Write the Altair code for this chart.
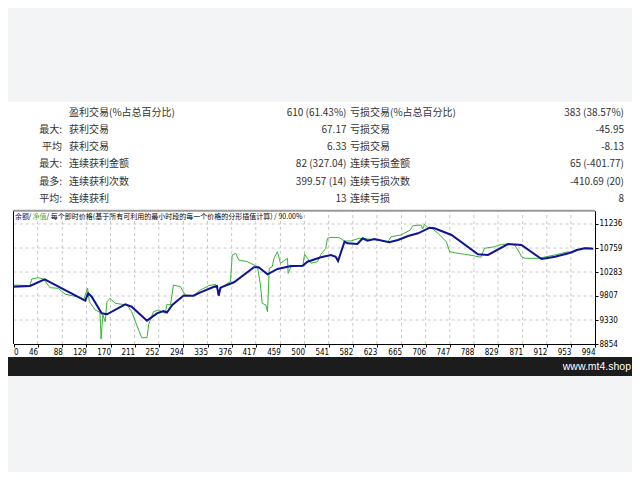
import altair as alt
import pandas as pd

# ---------------- table texts ----------------
ROW_PREFIX = ["", "最大:", "平均", "最大:", "最多:", "平均:"]
WIN_LABELS = ["盈利交易(%占总百分比)", "获利交易", "获利交易", "连续获利金额", "连续获利次数", "连续获利"]
WIN_VALUES = ["610 (61.43%)", "67.17", "6.33", "82 (327.04)", "399.57 (14)", "13"]
LOSS_LABELS = ["亏损交易(%占总百分比)", "亏损交易", "亏损交易", "连续亏损金额", "连续亏损次数", "连续亏损"]
LOSS_VALUES = ["383 (38.57%)", "-45.95", "-8.13", "65 (-401.77)", "-410.69 (20)", "8"]

# ---------------- chart texts ----------------
TITLE_BAL = "余额"
TITLE_SEP = "/"
TITLE_EQ = "净值"
TITLE_REST = "/ 每个即时价格(基于所有可利用的最小时段的每一个价格的分形插值计算) / 90.00%"
FOOTER = "www.mt4.shop"

# ---------------- series ----------------
BAL_X = [5, 33, 58, 127, 132, 138, 155, 164, 195, 206, 232, 249, 260, 266, 275, 294, 311, 323, 346, 351,
         354, 357, 380, 414, 422, 437, 454, 477, 497, 505, 528, 545, 553, 557, 568, 573, 590, 599, 607, 619,
         644, 659, 676, 693, 713, 721, 750, 795, 812, 846, 869, 903, 926, 949, 963, 977, 991]
BAL_Y = [9991, 10005, 10138, 9714, 9860, 9793, 9463, 9444, 9642, 9594, 9317, 9463, 9509, 9479, 9628, 9813, 9813, 9880, 9991, 10005,
         9813, 9972, 10079, 10377, 10377, 10238, 10343, 10402, 10408, 10488, 10575, 10621, 10587, 10502, 10885, 10853, 10839, 10952, 10905, 10938,
         10873, 10918, 10998, 11051, 11163, 11151, 11018, 10635, 10621, 10839, 10819, 10541, 10587, 10654, 10720, 10754, 10746]

EQ_X = [5, 33, 36, 47, 56, 67, 81, 93, 113, 124, 131, 134, 144, 152, 154, 157, 161, 164, 169, 178,
        198, 206, 215, 223, 232, 235, 243, 252, 263, 266, 272, 277, 289, 297, 311, 323, 337, 349, 354, 360,
        374, 377, 383, 388, 403, 420, 425, 428, 434, 437, 440, 445, 448, 454, 459, 471, 472, 477, 497, 500,
        505, 511, 522, 528, 536, 539, 545, 559, 568, 579, 593, 613, 642, 647, 664, 680, 684, 698, 701, 704,
        710, 718, 727, 741, 747, 755, 772, 787, 800, 806, 823, 835, 849, 857, 863, 869, 875, 898, 906, 926,
        937, 949, 954, 963, 971, 983, 991]
EQ_Y = [10025, 10011, 10144, 10170, 10144, 9972, 9960, 9841, 9793, 9727, 9960, 9694, 9529, 9483, 8953, 9430, 9297, 9694, 9761, 9662,
        9628, 9495, 9217, 8979, 8979, 9245, 9495, 9529, 9463, 9642, 9628, 10025, 9991, 9827, 9813, 9926, 10011, 10039, 9880, 9991,
        10091, 10621, 10654, 10521, 10488, 10388, 10025, 9662, 9628, 9495, 10357, 10388, 10555, 10686, 10456, 10555, 10257, 10388, 10402, 10635,
        10555, 10456, 10488, 10635, 10754, 10952, 10972, 10964, 10899, 10899, 10952, 10932, 10885, 10984, 11018, 11117, 11202, 11216, 11137, 11230,
        11163, 11137, 11051, 10885, 10686, 10666, 10635, 10607, 10575, 10754, 10785, 10833, 10833, 10819, 10720, 10587, 10555, 10555, 10575, 10621,
        10654, 10686, 10654, 10706, 10754, 10766, 10746]

X_TICKS = [0, 46, 88, 129, 170, 211, 252, 294, 335, 376, 417, 459, 500, 541, 582, 623, 665, 706, 747, 788, 829, 871, 912, 953, 994]
Y_TICKS = [8854, 9330, 9807, 10283, 10759, 11236]
X_DOMAIN = [5, 994]
Y_DOMAIN = [8854, 11500]

# ---------------- layout/style ----------------
W, H = 624, 464
BG = "#f2f4f5"
TXT = "#333333"
CJK = "Noto Sans CJK SC"
NARROW = "Liberation Sans Narrow, DejaVu Sans Condensed, sans-serif"
BLUE = "#121296"
GREEN = "#37b337"

XS = alt.Scale(domain=X_DOMAIN, range=[5.5, 587], nice=False, zero=False)
YS = alt.Scale(domain=Y_DOMAIN, range=[336, 202.7], nice=False, zero=False)

# the first tick sits on the left edge of the plot and is labelled with the first tick label
x_axis_values = [max(t, X_DOMAIN[0]) for t in X_TICKS]
first_test = f"datum.value <= {X_DOMAIN[0]}"

X_AX = alt.Axis(
    values=x_axis_values, offset=-128, orient="bottom", grid=False, domainColor="#000000", zindex=2,
    tickColor="#000000", tickSize=3, labelColor="#000000", labelFont=NARROW, labelFontSize=8,
    labelBaseline="top", labelPadding=1, labelOverlap=False, labelFlush=False, title=None, format="d",
    labelExpr=f"{first_test} ? '{X_TICKS[0]}' : datum.label",
    labelAlign={"condition": {"test": first_test, "value": "left"}, "value": "right"})
Y_AX = alt.Axis(
    values=Y_TICKS, offset=-37, orient="right", grid=False, domainColor="#000000", zindex=2,
    tickColor="#000000", tickSize=3, labelColor="#000000", labelFont=NARROW, labelFontSize=8, format="d",
    labelAlign="left", labelBaseline="middle", labelPadding=1, labelOverlap=False, title=None)

table = pd.DataFrame({
    "row": list(range(len(WIN_LABELS))),
    "prefix": ROW_PREFIX, "wl": WIN_LABELS, "wv": WIN_VALUES,
    "ll": LOSS_LABELS, "lv": LOSS_VALUES,
})
bal = pd.DataFrame({"i": BAL_X, "v": BAL_Y})
eq = pd.DataFrame({"i": EQ_X, "v": EQ_Y})
xt = pd.DataFrame({"t": X_TICKS[1:-1]})
yt = pd.DataFrame({"t": Y_TICKS[1:]})
one = pd.DataFrame({"a": [0]})

white_bg = alt.Chart(one).mark_rect(color="white").encode(
    x=alt.value(0), x2=alt.value(W), y=alt.value(94), y2=alt.value(349))
dark_bg = alt.Chart(one).mark_rect(color="#1c1c1c").encode(
    x=alt.value(0), x2=alt.value(W), y=alt.value(349), y2=alt.value(368))
footer = alt.Chart(one).mark_text(text=FOOTER, color="white", font="Liberation Sans", fontSize=10.5,
                                  align="right", baseline="middle").encode(
    x=alt.value(623), y=alt.value(358.5))

ROWY = alt.Y("row:Q", scale=alt.Scale(domain=[0, len(WIN_LABELS) - 1], range=[104.7, 191], nice=False, zero=False), axis=None)


def col(field, xpos, align):
    return alt.Chart(table).mark_text(font=CJK, fontSize=10, color=TXT, align=align, baseline="middle").encode(
        x=alt.value(xpos), y=ROWY, text=f"{field}:N")


t_prefix = col("prefix", 54, "right")
t_wl = col("wl", 61, "left")
t_wv = col("wv", 338.5, "right")
t_ll = col("ll", 342, "left")
t_lv = col("lv", 616, "right")


def ttl(text, xpos, color):
    return alt.Chart(one).mark_text(text=text, font=CJK, fontSize=7, color=color, align="left",
                                    baseline="middle").encode(x=alt.value(xpos), y=alt.value(209))


title_layers = [ttl(TITLE_BAL, 7, BLUE), ttl(TITLE_SEP, 20.5, "#000000"), ttl(TITLE_EQ, 24.5, GREEN),
                ttl(TITLE_REST, 38.5, "#000000")]

grid_v = alt.Chart(xt).mark_rule(color="#c8c8c8", strokeDash=[3, 3], strokeWidth=1).encode(
    x=alt.X("t:Q", scale=XS, axis=X_AX),
    y=alt.Y(datum=Y_DOMAIN[0], scale=YS, axis=Y_AX), y2=alt.datum(Y_DOMAIN[1]))
grid_h = alt.Chart(yt).mark_rule(color="#c8c8c8", strokeDash=[3, 3], strokeWidth=1).encode(
    y=alt.Y("t:Q", scale=YS, axis=Y_AX),
    x=alt.X(datum=X_DOMAIN[0], scale=XS, axis=X_AX), x2=alt.datum(X_DOMAIN[1]))
left_border = alt.Chart(one).mark_rule(color="#000000", strokeWidth=1).encode(
    x=alt.X(datum=X_DOMAIN[0], scale=XS, axis=X_AX),
    y=alt.Y(datum=Y_DOMAIN[0], scale=YS, axis=Y_AX), y2=alt.datum(Y_DOMAIN[1]))
top_border = alt.Chart(one).mark_rule(color="#9a9a9a", strokeWidth=2).encode(
    y=alt.Y(datum=Y_DOMAIN[1], scale=YS, axis=Y_AX),
    x=alt.X(datum=X_DOMAIN[0], scale=XS, axis=X_AX), x2=alt.datum(X_DOMAIN[1]))

eq_line = alt.Chart(eq).mark_line(color=GREEN, strokeWidth=1).encode(
    x=alt.X("i:Q", scale=XS, axis=X_AX),
    y=alt.Y("v:Q", scale=YS, axis=Y_AX))

bal_line = alt.Chart(bal).mark_line(color=BLUE, strokeWidth=2).encode(
    x=alt.X("i:Q", scale=XS, axis=X_AX),
    y=alt.Y("v:Q", scale=YS, axis=Y_AX))

plot = alt.layer(grid_v, grid_h, eq_line, bal_line, left_border, top_border)

chart = alt.layer(
    white_bg, dark_bg, footer, t_prefix, t_wl, t_wv, t_ll, t_lv, *title_layers, plot
).resolve_scale(x="independent", y="independent").properties(
    width=W, height=H, autosize=alt.AutoSizeParams(type="none"), padding=0
).configure(background=BG).configure_view(stroke=None)

chart.save("out.html", embed_options={"renderer": "svg", "actions": False})
